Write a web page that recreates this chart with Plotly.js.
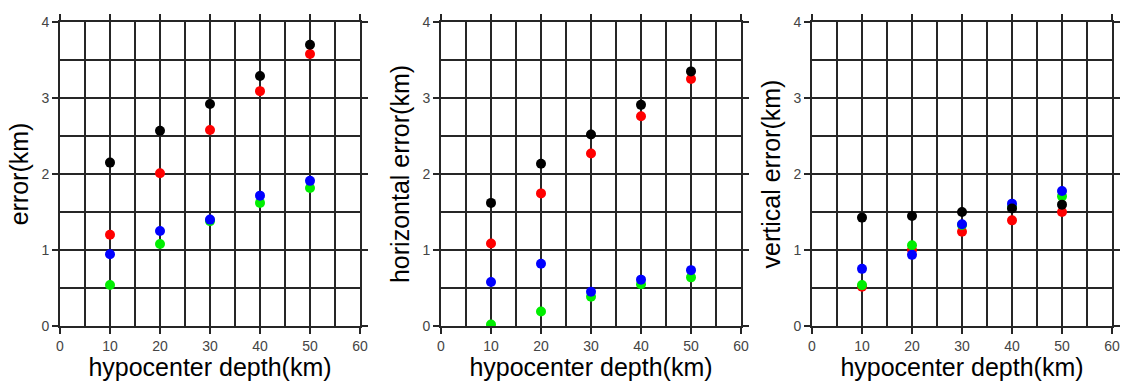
<!DOCTYPE html>
<html>
<head>
<meta charset="utf-8">
<script src="https://cdn.plot.ly/plotly-3.0.1.min.js"></script>
<style>html,body{margin:0;padding:0;background:#fff}#chart{width:1125px;height:381px}</style>
</head>
<body>
<div id="chart"></div>
<script>
// hypocenter depth (km)
var depth = [10, 20, 30, 40, 50];

// Panel 1: error (km)
var errBlack = [2.15, 2.57, 2.92, 3.29, 3.70];
var errRed   = [1.20, 2.01, 2.58, 3.09, 3.58];
var errGreen = [0.54, 1.08, 1.38, 1.62, 1.815];
var errBlue  = [0.945, 1.25, 1.40, 1.715, 1.91];

// Panel 2: horizontal error (km)
var horBlack = [1.62, 2.135, 2.52, 2.91, 3.35];
var horRed   = [1.085, 1.745, 2.27, 2.76, 3.25];
var horGreen = [0.02, 0.19, 0.385, 0.55, 0.64];
var horBlue  = [0.58, 0.82, 0.45, 0.61, 0.735];

// Panel 3: vertical error (km)
var verBlack = [1.426, 1.448, 1.50, 1.545, 1.597];
var verRed   = [0.516, 1.00, 1.24, 1.39, 1.50];
var verGreen = [0.538, 1.063, 1.33, 1.57, 1.706];
var verBlue  = [0.752, 0.936, 1.339, 1.61, 1.776];

var xTitle = 'hypocenter depth(km)';
var yTitles = ['error(km)', 'horizontal error(km)', 'vertical error(km)'];

var colors = {red: '#ff0000', green: '#00ee00', blue: '#0000ff', black: '#000000'};

function tr(y, col, ax) {
  return {
    x: depth, y: y, type: 'scatter', mode: 'markers',
    marker: {color: colors[col], size: 10},
    xaxis: 'x' + ax, yaxis: 'y' + ax, showlegend: false, hoverinfo: 'x+y'
  };
}

var data = [
  tr(errRed, 'red', ''), tr(errGreen, 'green', ''), tr(errBlue, 'blue', ''), tr(errBlack, 'black', ''),
  tr(horRed, 'red', '2'), tr(horGreen, 'green', '2'), tr(horBlue, 'blue', '2'), tr(horBlack, 'black', '2'),
  tr(verRed, 'red', '3'), tr(verGreen, 'green', '3'), tr(verBlue, 'blue', '3'), tr(verBlack, 'black', '3')
];

var W = 1125, H = 381;
var yDom = [(H - 326) / H, (H - 22) / H];
var xDoms = [[60 / W, 360 / W], [441 / W, 741 / W], [812 / W, 1112 / W]];

var tickFont = {family: 'Liberation Sans, Arial, sans-serif', size: 14, color: '#444'};
var titleFont = {family: 'Liberation Sans, Arial, sans-serif', size: 25, color: '#000'};
var gridCol = '#262626';

function xax(i) {
  return {
    domain: xDoms[i], range: [0, 60], dtick: 10, tick0: 0, anchor: i === 0 ? 'y' : 'y' + (i + 1),
    showgrid: true, gridcolor: gridCol, gridwidth: 2, zeroline: false,
    showline: true, linecolor: gridCol, linewidth: 2, mirror: 'ticks',
    ticks: 'outside', ticklen: 6, tickwidth: 2, tickcolor: gridCol,
    minor: {dtick: 5, showgrid: true, gridcolor: gridCol, gridwidth: 2, ticks: ''},
    tickfont: tickFont, fixedrange: true, automargin: false,
    title: {text: xTitle, font: titleFont, standoff: 6}
  };
}
function yax(i) {
  return {
    domain: yDom, range: [0, 4], dtick: 1, tick0: 0, anchor: i === 0 ? 'x' : 'x' + (i + 1),
    showgrid: true, gridcolor: gridCol, gridwidth: 2, zeroline: false,
    showline: true, linecolor: gridCol, linewidth: 2, mirror: 'ticks',
    ticks: 'outside', ticklen: 6, tickwidth: 2, tickcolor: gridCol,
    minor: {dtick: 0.5, showgrid: true, gridcolor: gridCol, gridwidth: 2, ticks: ''},
    tickfont: tickFont, fixedrange: true, automargin: false,
    title: {text: yTitles[i], font: titleFont, standoff: 6}
  };
}

var layout = {
  width: W, height: H,
  margin: {l: 0, r: 0, t: 0, b: 0},
  paper_bgcolor: '#fff', plot_bgcolor: '#fff',
  showlegend: false,
  xaxis: xax(0), yaxis: yax(0),
  xaxis2: xax(1), yaxis2: yax(1),
  xaxis3: xax(2), yaxis3: yax(2)
};

Plotly.newPlot('chart', data, layout, {displayModeBar: false, staticPlot: true});
</script>
</body>
</html>
